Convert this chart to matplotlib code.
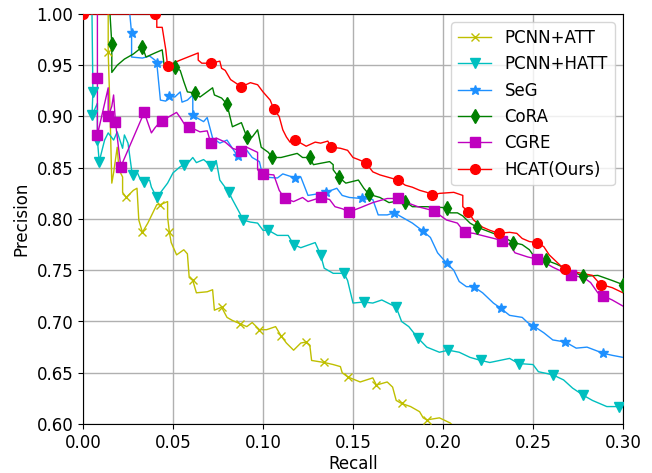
import matplotlib
matplotlib.use("Agg")
import matplotlib.pyplot as plt
from matplotlib.lines import Line2D

# ---------------- data ----------------
att_r = [0.014, 0.014, 0.015, 0.016, 0.017, 0.019, 0.020, 0.022, 0.022, 0.024, 0.028, 0.030, 0.031, 0.033,
         0.036, 0.041, 0.043, 0.047, 0.047, 0.048, 0.049, 0.052, 0.056, 0.058, 0.059, 0.061, 0.063, 0.069,
         0.072, 0.073, 0.077, 0.080, 0.083, 0.087, 0.091, 0.094, 0.098, 0.102, 0.107, 0.110, 0.113, 0.117,
         0.121, 0.124, 0.126, 0.127, 0.134, 0.139, 0.143, 0.144, 0.147, 0.154, 0.161, 0.163, 0.169, 0.172,
         0.174, 0.177, 0.182, 0.187, 0.189, 0.191, 0.198, 0.204, 0.207]
att_p = [1.000, 0.963, 0.906, 0.835, 0.845, 0.870, 0.848, 0.841, 0.826, 0.821, 0.828, 0.830, 0.799, 0.787,
         0.796, 0.814, 0.814, 0.817, 0.802, 0.787, 0.777, 0.765, 0.770, 0.766, 0.743, 0.740, 0.728, 0.729,
         0.731, 0.711, 0.714, 0.704, 0.701, 0.698, 0.695, 0.699, 0.692, 0.692, 0.695, 0.686, 0.679, 0.672,
         0.679, 0.680, 0.677, 0.662, 0.660, 0.658, 0.656, 0.650, 0.646, 0.641, 0.645, 0.638, 0.641, 0.636,
         0.623, 0.620, 0.617, 0.612, 0.606, 0.604, 0.606, 0.601, 0.596]
att_mr = [0.014, 0.024, 0.033, 0.043, 0.048, 0.061, 0.077, 0.087, 0.098, 0.110, 0.124, 0.134, 0.147, 0.163,
          0.177, 0.191]
att_mp = [0.963, 0.821, 0.787, 0.814, 0.787, 0.740, 0.714, 0.698, 0.692, 0.686, 0.680, 0.660, 0.646, 0.638,
          0.620, 0.604]

hatt_r = [0.005, 0.0055, 0.005, 0.008, 0.008, 0.009, 0.012, 0.014, 0.017, 0.019, 0.022, 0.023, 0.025, 0.027,
          0.028, 0.030, 0.032, 0.034, 0.037, 0.038, 0.041, 0.047, 0.050, 0.054, 0.056, 0.059, 0.061, 0.063,
          0.067, 0.071, 0.074, 0.076, 0.081, 0.083, 0.087, 0.089, 0.093, 0.097, 0.100, 0.103, 0.108, 0.114,
          0.117, 0.121, 0.129, 0.132, 0.134, 0.139, 0.145, 0.147, 0.150, 0.156, 0.161, 0.166, 0.174, 0.177,
          0.181, 0.186, 0.191, 0.198, 0.203, 0.209, 0.215, 0.221, 0.226, 0.237, 0.242, 0.250, 0.253, 0.261,
          0.267, 0.272, 0.278, 0.283, 0.291, 0.298, 0.300]
hatt_p = [1.000, 0.924, 0.901, 0.913, 0.877, 0.856, 0.877, 0.884, 0.877, 0.885, 0.869, 0.882, 0.874, 0.848,
          0.843, 0.846, 0.838, 0.836, 0.838, 0.831, 0.821, 0.835, 0.845, 0.851, 0.853, 0.856, 0.860, 0.855,
          0.858, 0.852, 0.857, 0.838, 0.826, 0.819, 0.806, 0.799, 0.797, 0.796, 0.789, 0.789, 0.784, 0.784,
          0.775, 0.772, 0.777, 0.765, 0.752, 0.747, 0.747, 0.740, 0.718, 0.719, 0.718, 0.721, 0.714, 0.700,
          0.695, 0.684, 0.675, 0.670, 0.672, 0.670, 0.665, 0.662, 0.660, 0.664, 0.659, 0.658, 0.651, 0.648,
          0.643, 0.635, 0.628, 0.623, 0.617, 0.617, 0.616]
hatt_mr = [0.0055, 0.005, 0.008, 0.009, 0.028, 0.034, 0.041, 0.056, 0.071, 0.081, 0.089, 0.103, 0.117, 0.132,
           0.145, 0.156, 0.174, 0.186, 0.203, 0.221, 0.242, 0.261, 0.278, 0.298]
hatt_mp = [0.924, 0.901, 0.877, 0.856, 0.843, 0.836, 0.821, 0.853, 0.852, 0.826, 0.799, 0.789, 0.775, 0.765,
           0.747, 0.719, 0.714, 0.684, 0.672, 0.662, 0.659, 0.648, 0.628, 0.617]

seg_r = [0.026, 0.027, 0.027, 0.033, 0.037, 0.040, 0.041, 0.043, 0.046, 0.048, 0.051, 0.054, 0.055, 0.058,
         0.061, 0.061, 0.067, 0.069, 0.072, 0.076, 0.080, 0.086, 0.091, 0.094, 0.098, 0.100, 0.108, 0.111,
         0.118, 0.121, 0.125, 0.132, 0.135, 0.141, 0.144, 0.148, 0.155, 0.161, 0.164, 0.169, 0.173, 0.178,
         0.183, 0.189, 0.193, 0.197, 0.202, 0.206, 0.209, 0.213, 0.217, 0.222, 0.228, 0.232, 0.237, 0.244,
         0.247, 0.250, 0.256, 0.261, 0.268, 0.274, 0.280, 0.289, 0.294, 0.300]
seg_p = [1.000, 0.981, 0.958, 0.957, 0.959, 0.955, 0.952, 0.916, 0.915, 0.920, 0.919, 0.924, 0.914, 0.916,
         0.921, 0.901, 0.895, 0.899, 0.879, 0.874, 0.877, 0.861, 0.867, 0.860, 0.856, 0.841, 0.840, 0.844,
         0.840, 0.841, 0.823, 0.825, 0.826, 0.830, 0.823, 0.821, 0.820, 0.819, 0.804, 0.804, 0.806, 0.801,
         0.796, 0.788, 0.782, 0.767, 0.757, 0.750, 0.739, 0.734, 0.734, 0.728, 0.718, 0.713, 0.706, 0.704,
         0.699, 0.696, 0.689, 0.682, 0.680, 0.674, 0.675, 0.669, 0.667, 0.665]
seg_mr = [0.027, 0.041, 0.048, 0.061, 0.086, 0.118, 0.135, 0.155, 0.173, 0.189, 0.202, 0.217, 0.232, 0.250,
          0.268, 0.289]
seg_mp = [0.981, 0.952, 0.920, 0.901, 0.861, 0.840, 0.826, 0.820, 0.806, 0.788, 0.757, 0.734, 0.713, 0.696,
          0.680, 0.669]

cora_r = [0.015, 0.016, 0.016, 0.019, 0.023, 0.028, 0.033, 0.035, 0.040, 0.044, 0.045, 0.051, 0.054, 0.056,
          0.058, 0.062, 0.065, 0.072, 0.073, 0.077, 0.080, 0.083, 0.088, 0.091, 0.094, 0.097, 0.099, 0.103,
          0.105, 0.110, 0.119, 0.122, 0.126, 0.128, 0.137, 0.139, 0.139, 0.142, 0.146, 0.153, 0.156, 0.159,
          0.165, 0.170, 0.176, 0.179, 0.183, 0.191, 0.202, 0.204, 0.208, 0.211, 0.215, 0.219, 0.228, 0.236,
          0.239, 0.244, 0.248, 0.252, 0.257, 0.263, 0.269, 0.278, 0.286, 0.294, 0.300]
cora_p = [1.000, 0.971, 0.943, 0.950, 0.956, 0.961, 0.968, 0.958, 0.962, 0.965, 0.951, 0.948, 0.945, 0.934,
          0.924, 0.923, 0.919, 0.928, 0.921, 0.918, 0.912, 0.890, 0.894, 0.880, 0.880, 0.887, 0.870, 0.865,
          0.860, 0.860, 0.864, 0.860, 0.860, 0.853, 0.856, 0.853, 0.848, 0.841, 0.835, 0.838, 0.830, 0.824,
          0.821, 0.816, 0.818, 0.817, 0.812, 0.812, 0.811, 0.806, 0.806, 0.803, 0.796, 0.792, 0.786, 0.780,
          0.777, 0.775, 0.770, 0.760, 0.760, 0.756, 0.751, 0.744, 0.745, 0.740, 0.736]
cora_mr = [0.016, 0.033, 0.051, 0.062, 0.080, 0.091, 0.105, 0.126, 0.142, 0.159, 0.179, 0.202, 0.219, 0.239,
           0.257, 0.278, 0.300]
cora_mp = [0.971, 0.968, 0.948, 0.923, 0.912, 0.880, 0.860, 0.860, 0.841, 0.824, 0.817, 0.811, 0.792, 0.777,
           0.760, 0.744, 0.736]

cgre_r = [0.008, 0.008, 0.008, 0.011, 0.014, 0.014, 0.016, 0.017, 0.018, 0.021, 0.034, 0.038, 0.040, 0.043,
          0.044, 0.052, 0.054, 0.058, 0.059, 0.065, 0.069, 0.071, 0.074, 0.079, 0.083, 0.088, 0.091, 0.097,
          0.097, 0.100, 0.106, 0.109, 0.112, 0.117, 0.122, 0.125, 0.132, 0.137, 0.140, 0.144, 0.148, 0.154,
          0.161, 0.169, 0.175, 0.180, 0.186, 0.195, 0.198, 0.202, 0.206, 0.208, 0.212, 0.217, 0.226, 0.233,
          0.237, 0.240, 0.247, 0.252, 0.256, 0.261, 0.267, 0.271, 0.278, 0.282, 0.286, 0.289, 0.294, 0.300]
cgre_p = [1.000, 0.938, 0.882, 0.905, 0.928, 0.900, 0.910, 0.921, 0.895, 0.851, 0.904, 0.884, 0.889, 0.895,
          0.896, 0.904, 0.899, 0.888, 0.890, 0.885, 0.886, 0.874, 0.879, 0.875, 0.869, 0.866, 0.870, 0.865,
          0.848, 0.844, 0.843, 0.828, 0.820, 0.817, 0.821, 0.817, 0.821, 0.819, 0.812, 0.810, 0.807, 0.811,
          0.816, 0.820, 0.820, 0.816, 0.812, 0.808, 0.804, 0.799, 0.797, 0.796, 0.787, 0.786, 0.782, 0.779,
          0.775, 0.767, 0.763, 0.761, 0.758, 0.753, 0.748, 0.745, 0.743, 0.738, 0.728, 0.725, 0.721, 0.715]
cgre_mr = [0.008, 0.008, 0.014, 0.018, 0.021, 0.034, 0.044, 0.059, 0.071, 0.088, 0.100, 0.112, 0.132, 0.148,
           0.175, 0.195, 0.212, 0.233, 0.252, 0.271, 0.289]
cgre_mp = [0.938, 0.882, 0.900, 0.895, 0.851, 0.904, 0.896, 0.890, 0.874, 0.866, 0.844, 0.820, 0.821, 0.807,
           0.820, 0.808, 0.787, 0.779, 0.761, 0.745, 0.725]

hcat_r = [0.000, 0.040, 0.041, 0.041, 0.044, 0.046, 0.047, 0.050, 0.054, 0.064, 0.064, 0.066, 0.071, 0.076,
          0.077, 0.079, 0.082, 0.088, 0.093, 0.097, 0.100, 0.104, 0.106, 0.109, 0.111, 0.113, 0.115, 0.118,
          0.121, 0.124, 0.129, 0.132, 0.136, 0.138, 0.143, 0.147, 0.150, 0.153, 0.157, 0.161, 0.165, 0.169,
          0.175, 0.179, 0.183, 0.187, 0.191, 0.194, 0.198, 0.206, 0.211, 0.211, 0.214, 0.217, 0.222, 0.226,
          0.231, 0.237, 0.241, 0.244, 0.248, 0.252, 0.256, 0.259, 0.265, 0.268, 0.274, 0.283, 0.286, 0.288,
          0.294, 0.300]
hcat_p = [1.000, 1.000, 1.000, 0.987, 0.987, 0.965, 0.949, 0.952, 0.955, 0.962, 0.955, 0.952, 0.952, 0.954,
          0.947, 0.945, 0.936, 0.929, 0.933, 0.931, 0.924, 0.916, 0.907, 0.900, 0.887, 0.880, 0.875, 0.877,
          0.874, 0.871, 0.875, 0.874, 0.876, 0.870, 0.869, 0.867, 0.860, 0.858, 0.855, 0.846, 0.843, 0.841,
          0.838, 0.833, 0.831, 0.828, 0.826, 0.823, 0.825, 0.826, 0.823, 0.812, 0.807, 0.799, 0.792, 0.789,
          0.786, 0.787, 0.786, 0.781, 0.778, 0.777, 0.773, 0.765, 0.755, 0.751, 0.748, 0.745, 0.739, 0.736,
          0.733, 0.728]
hcat_mr = [0.000, 0.040, 0.047, 0.071, 0.088, 0.106, 0.118, 0.138, 0.157, 0.175, 0.194, 0.214, 0.231, 0.252,
           0.268, 0.288]
hcat_mp = [1.000, 1.000, 0.949, 0.952, 0.929, 0.907, 0.877, 0.870, 0.855, 0.838, 0.823, 0.807, 0.786, 0.777,
           0.751, 0.736]

labels = ["PCNN+ATT", "PCNN+HATT", "SeG", "CoRA", "CGRE", "HCAT(Ours)"]
x_ticks = [0.00, 0.05, 0.10, 0.15, 0.20, 0.25, 0.30]
y_ticks = [0.60, 0.65, 0.70, 0.75, 0.80, 0.85, 0.90, 0.95, 1.00]

# ---------------- style ----------------
series = [
    (att_r, att_p, att_mr, att_mp, "#bfbf00", "x", 6),
    (hatt_r, hatt_p, hatt_mr, hatt_mp, "#00bfbf", "v", 7),
    (seg_r, seg_p, seg_mr, seg_mp, "#1e90ff", "*", 7),
    (cora_r, cora_p, cora_mr, cora_mp, "#008000", "d", 7),
    (cgre_r, cgre_p, cgre_mr, cgre_mp, "#bf00bf", "s", 6.5),
    (hcat_r, hcat_p, hcat_mr, hcat_mp, "#ff0000", "o", 7),
]

plt.rcParams['font.family'] = ['DejaVu Sans']
fig = plt.figure(figsize=(6.52, 4.73), dpi=100)
ax = fig.add_axes([83/652, 49/473, 540/652, 410/473])

handles = []
for (r, p, mr, mp, c, m, ms), lab in zip(series, labels):
    ax.plot(r, p, color=c, lw=1.0, zorder=3)
    ax.plot(mr, mp, ls='none', marker=m, color=c, ms=ms, zorder=4)
    handles.append(Line2D([], [], color=c, lw=1.0, marker=m, ms=ms, label=lab))

ax.set_xlim(0, 0.30)
ax.set_ylim(0.60, 1.00)
ax.set_xticks(x_ticks)
ax.set_yticks(y_ticks)
ax.set_xticklabels([f"{v:.2f}" for v in x_ticks])
ax.set_yticklabels([f"{v:.2f}" for v in y_ticks])
ax.tick_params(labelsize=12)
ax.grid(True, color='#b0b0b0', lw=1.0)
ax.set_axisbelow(True)
ax.set_xlabel("Recall", fontsize=12, labelpad=2)
ax.set_ylabel("Precision", fontsize=12)
ax.legend(handles=handles, loc='upper right', fontsize=12, framealpha=0.8)

fig.savefig("out.png", dpi=100)
